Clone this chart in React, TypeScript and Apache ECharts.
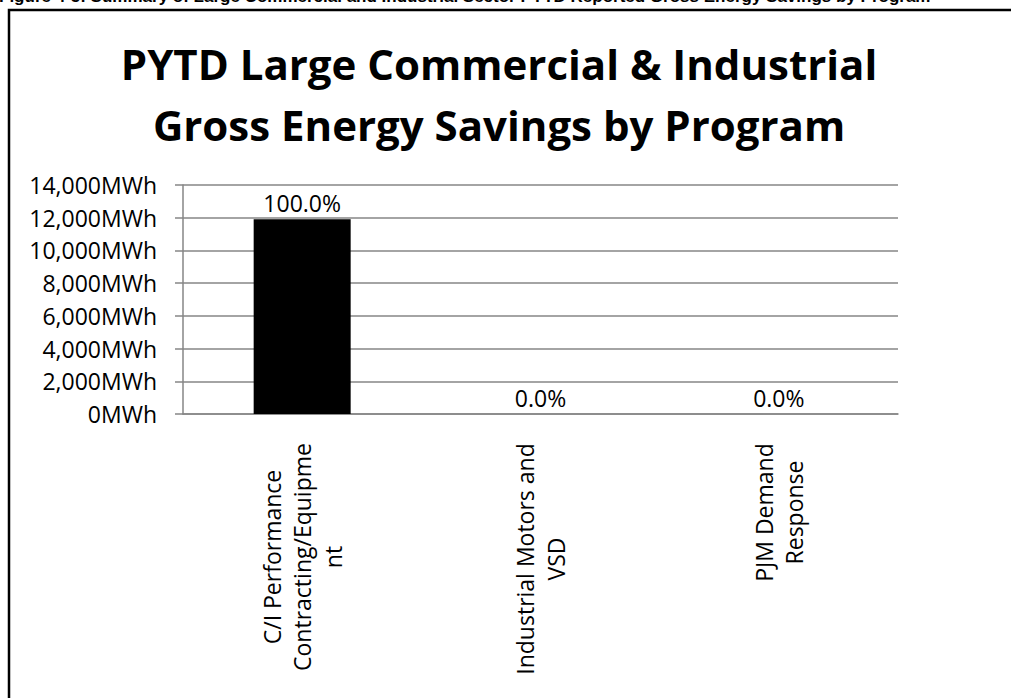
import React, { useEffect, useRef } from 'react';
import * as echarts from 'echarts';

const categories = [
  'C/I Performance\nContracting/Equipme\nnt',
  'Industrial Motors and\nVSD',
  'PJM Demand\nResponse',
];
const savingsMWh = [11900, 0, 0];
const shareLabels = ['100.0%', '0.0%', '0.0%'];
const yMin = 0;
const yMax = 14000;
const yStep = 2000;
const unit = 'MWh';
const chartTitle = 'PYTD Large Commercial & Industrial\nGross Energy Savings by Program';
const figureCaption =
  'Figure 4-5: Summary of Large Commercial and Industrial Sector PYTD Reported Gross Energy Savings by Program';

const FONT = '"Open Sans", sans-serif';
const LABEL_SIZE = 23;

function measure(s: string, size: number): number {
  const ctx = document.createElement('canvas').getContext('2d');
  if (!ctx) return s.length * size * 0.55;
  ctx.font = `${size}px "Open Sans"`;
  return ctx.measureText(s).width;
}

export default function App() {
  const ref = useRef<HTMLDivElement>(null);
  useEffect(() => {
    if (!ref.current) return;
    const chart = echarts.init(ref.current, null, { renderer: 'svg' });
    const rich: Record<string, any> = {};
    categories.forEach((c, i) => {
      const w = Math.max(...c.split('\n').map((l) => measure(l, LABEL_SIZE)));
      rich['c' + i] = {
        width: Math.ceil(w) + 2,
        align: 'center',
        fontSize: LABEL_SIZE,
        lineHeight: 30.5,
        fontFamily: FONT,
        color: '#000',
      };
    });
    chart.setOption({
      animation: false,
      backgroundColor: '#fff',
      title: {
        text: chartTitle,
        left: 494,
        top: 28,
        textAlign: 'center',
        textStyle: {
          fontFamily: FONT,
          fontWeight: 'bold',
          fontSize: 42,
          lineHeight: 61,
          color: '#000',
        },
      },
      graphic: [
        {
          type: 'rect',
          shape: { x: 9, y: 10, width: 1100, height: 800 },
          style: { fill: 'none', stroke: '#000', lineWidth: 2.5 },
          silent: true,
        },
        {
          type: 'text',
          x: -1,
          y: 5,
          style: {
            text: figureCaption,
            fontFamily: '"Liberation Sans Narrow", "Liberation Sans", sans-serif',
            fontWeight: 'bold',
            fontSize: 17,
            verticalAlign: 'bottom',
            fill: '#000',
          },
          silent: true,
        },
      ],
      grid: { left: 183, right: 113, top: 185, bottom: 284, containLabel: false },
      xAxis: {
        type: 'category',
        data: categories,
        axisLine: { show: true, lineStyle: { color: '#868686', width: 1.5 } },
        axisTick: { show: false },
        axisLabel: {
          interval: 0,
          rotate: 90,
          margin: 28,
          formatter: (v: string, i: number) =>
            v
              .split('\n')
              .map((l) => `{c${i}|${l}}`)
              .join('\n'),
          rich,
        },
      },
      yAxis: {
        type: 'value',
        min: yMin,
        max: yMax,
        interval: yStep,
        axisLine: { show: true, lineStyle: { color: '#868686', width: 1.5 } },
        axisTick: { show: true, length: 8, lineStyle: { color: '#868686', width: 1.5 } },
        splitLine: { show: true, lineStyle: { color: '#868686', width: 1.5 } },
        axisLabel: {
          margin: 26,
          fontFamily: FONT,
          fontSize: LABEL_SIZE,
          color: '#000',
          formatter: (v: number) => v.toLocaleString('en-US') + unit,
        },
      },
      series: [
        {
          type: 'bar',
          data: savingsMWh,
          barWidth: '40.7%',
          itemStyle: { color: '#000' },
          label: {
            show: true,
            position: 'top',
            distance: 5,
            fontFamily: FONT,
            fontSize: LABEL_SIZE,
            color: '#000',
            formatter: (p: any) => shareLabels[p.dataIndex],
          },
        },
      ],
    });
    return () => chart.dispose();
  }, []);
  return (
    <div
      ref={ref}
      style={{ position: 'fixed', left: 0, top: 0, width: 1011, height: 698, background: '#fff' }}
    />
  );
}
